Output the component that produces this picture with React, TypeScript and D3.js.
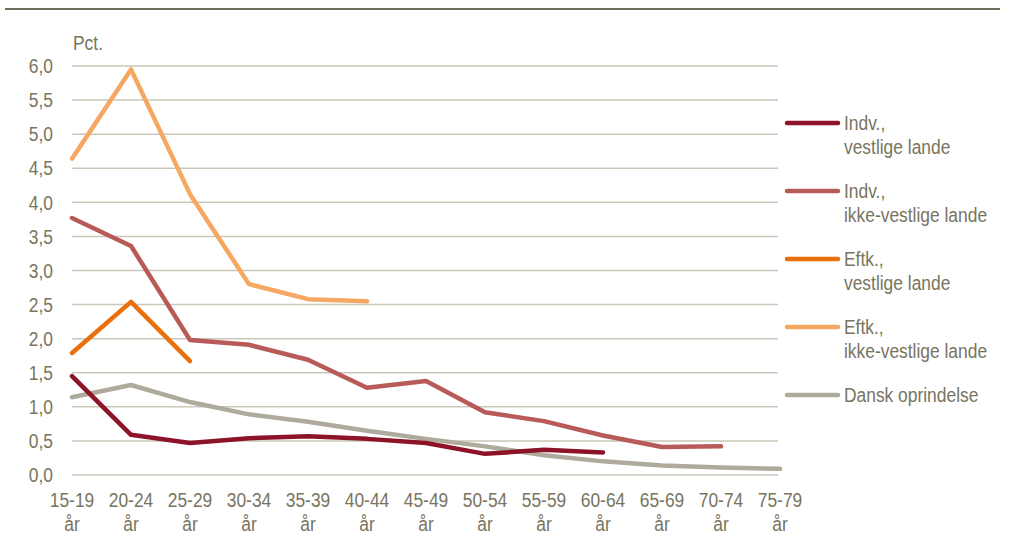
import React from 'react';
import * as d3 from 'd3';

const ageGroups = ['15-19', '20-24', '25-29', '30-34', '35-39', '40-44', '45-49', '50-54', '55-59', '60-64', '65-69', '70-74', '75-79'];
const yTicks = [0, 0.5, 1, 1.5, 2, 2.5, 3, 3.5, 4, 4.5, 5, 5.5, 6];

const indvVestlige = [1.45, 0.59, 0.47, 0.54, 0.57, 0.53, 0.47, 0.31, 0.37, 0.33, null, null, null];
const indvIkkeVestlige = [3.77, 3.36, 1.98, 1.91, 1.69, 1.28, 1.38, 0.92, 0.79, 0.58, 0.41, 0.42, null];
const eftkVestlige = [1.79, 2.54, 1.67, null, null, null, null, null, null, null, null, null, null];
const eftkIkkeVestlige = [4.64, 5.95, 4.12, 2.8, 2.58, 2.55, null, null, null, null, null, null, null];
const danskOprindelse = [1.14, 1.32, 1.07, 0.89, 0.78, 0.65, 0.53, 0.42, 0.29, 0.2, 0.14, 0.11, 0.09];

const seriesNames = [['Indv.,', 'vestlige lande'], ['Indv.,', 'ikke-vestlige lande'], ['Eftk.,', 'vestlige lande'], ['Eftk.,', 'ikke-vestlige lande'], ['Dansk oprindelse']];
const seriesColors = ['#8c1328', '#b85a58', '#ea700e', '#f6a862', '#aeab9c'];
const seriesValues = [indvVestlige, indvIkkeVestlige, eftkVestlige, eftkIkkeVestlige, danskOprindelse];

const W = 1009;
const H = 540;
const FONT = '"Liberation Sans Narrow", "Arial Narrow", "Liberation Sans", Arial, sans-serif';
const TEXT = '#78755f';
const NARROW = 0.87; // no narrow font installed, squeeze Liberation Sans instead

// text squeezed horizontally around its anchor point
const T = ({ x, y, anchor = 'start', size = 20, children }: any) => (
  <text transform={`translate(${x},${y}) scale(${NARROW},1)`} dy="0.36em" textAnchor={anchor}
    fill={TEXT} fontSize={size}>{children}</text>
);

export default function App() {
  const x = d3.scalePoint<string>().domain(ageGroups).range([72, 780]);
  const y = d3.scaleLinear().domain([0, 6]).range([475, 66]);

  const line = d3.line<number | null>()
    .defined(d => d != null)
    .x((_, i) => x(ageGroups[i]) as number)
    .y(d => y(d as number));

  // draw order: grey underneath, light orange on top
  const order = [4, 1, 0, 2, 3];

  return (
    <svg width={W} height={H} style={{ position: 'absolute', left: 0, top: 0, fontFamily: FONT }}>
      <rect width={W} height={H} fill="#fff" />
      <line x1={5} x2={1000} y1={9} y2={9} stroke="#6f6d5c" strokeWidth={2} />

      <T x={73} y={43}>Pct.</T>

      {yTicks.map(t => (
        <g key={t}>
          <line x1={72} x2={778} y1={y(t)} y2={y(t)} stroke="#c9c7b9" strokeWidth={1.5} />
          <T x={53} y={y(t)} anchor="end">{d3.format('.1f')(t).replace('.', ',')}</T>
        </g>
      ))}

      {ageGroups.map(a => (
        <g key={a}>
          <T x={x(a)} y={500} anchor="middle">{a}</T>
          <T x={x(a)} y={524} anchor="middle">år</T>
        </g>
      ))}

      {order.map(i => (
        <path key={i} d={line(seriesValues[i]) || ''} fill="none" stroke={seriesColors[i]}
          strokeWidth={4.5} strokeLinejoin="round" strokeLinecap="round" />
      ))}

      {seriesNames.map((name, i) => {
        const ly = 123 + i * 68;
        return (
          <g key={i}>
            <line x1={787} x2={838} y1={ly} y2={ly} stroke={seriesColors[i]} strokeWidth={4.5} strokeLinecap="round" />
            {name.map((s, j) => (
              <T key={j} x={844} y={ly + j * 24}>{s}</T>
            ))}
          </g>
        );
      })}
    </svg>
  );
}
